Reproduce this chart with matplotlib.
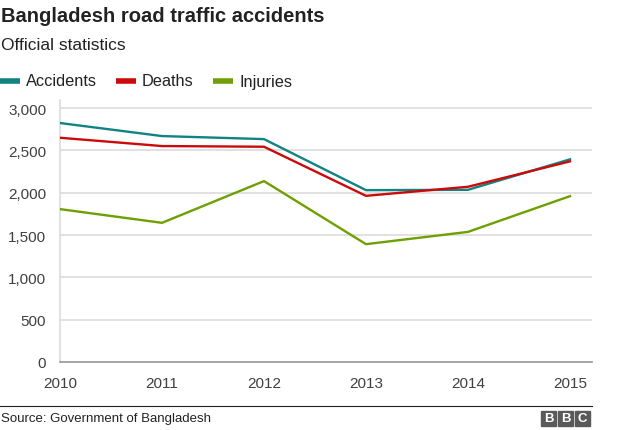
import matplotlib
matplotlib.use("Agg")
from matplotlib import pyplot as plt
from matplotlib.patches import Rectangle
from matplotlib.lines import Line2D

plt.rcParams['font.family'] = ['Liberation Sans', 'DejaVu Sans']

years = [2010, 2011, 2012, 2013, 2014, 2015]
accidents = [2823, 2669, 2633, 2030, 2034, 2394]
deaths = [2649, 2551, 2543, 1963, 2070, 2370]
injuries = [1806, 1644, 2137, 1392, 1537, 1959]

series = [("Accidents", accidents, "#128282"),
          ("Deaths", deaths, "#CC0A0A"),
          ("Injuries", injuries, "#6DA000")]

fig = plt.figure(figsize=(6.24, 4.31), dpi=100)
W, H = 624, 431
ax = fig.add_axes([60 / W, 1 - 363 / H, (592 - 60) / W, (363 - 101) / H])

for name, vals, col in series:
    ax.plot(years, vals, color=col, lw=1.7, label=name, zorder=3)

ax.set_xlim(2010, 2015.216)
ax.set_ylim(0, 3095)
ax.set_yticks([0, 500, 1000, 1500, 2000, 2500, 3000])
ax.set_yticklabels(["0", "500", "1,000", "1,500", "2,000", "2,500", "3,000"])
ax.set_xticks(years)
ax.set_xticklabels([str(y) for y in years])
ax.grid(axis='y', color='#dcdcdc', lw=1.2, zorder=0)
for s in ["top", "right"]:
    ax.spines[s].set_visible(False)
ax.spines["left"].set_color("#dcdcdc")
ax.spines["left"].set_linewidth(1.2)
ax.spines["bottom"].set_color("#999999")
ax.spines["bottom"].set_linewidth(1.2)
ax.tick_params(axis='y', length=0, pad=10, labelsize=11, labelcolor="#404040")
ax.tick_params(axis='x', length=0, pad=10, labelsize=11, labelcolor="#404040")

fig.text(1 / W, 1 - 16 / H, "Bangladesh road traffic accidents", fontsize=14.5,
         fontweight='bold', color="#222222", va='center', ha='left')
fig.text(1 / W, 1 - 46 / H, "Official statistics", fontsize=12.5,
         color="#222222", va='center', ha='left')

# legend row
lx = [0, 116, 213]
for (name, vals, col), x0 in zip(series, lx):
    fig.add_artist(Line2D([x0 / W, (x0 + 20) / W], [1 - 82 / H, 1 - 82 / H],
                          color=col, lw=4, solid_capstyle='butt'))
    fig.text((x0 + 26) / W, 1 - 82 / H, name, fontsize=11.8, color="#222222",
             va='center', ha='left')

# footer
fig.add_artist(Line2D([0, 592 / W], [1 - 407 / H, 1 - 407 / H], color="#222222", lw=0.8))
fig.text(1 / W, 1 - 419 / H, "Source: Government of Bangladesh", fontsize=9.5,
         color="#222222", va='center', ha='left')
for i, ch in enumerate("BBC"):
    x0 = 541 + i * 17
    fig.add_artist(Rectangle((x0 / W, 1 - 427 / H), 15 / W, 15 / H,
                             color="#5a5a5a", transform=fig.transFigure))
    fig.text((x0 + 7.5) / W, 1 - 419.5 / H, ch, fontsize=9.5, fontweight='bold',
             color="white", va='center', ha='center')

plt.savefig("out.png", dpi=100)
